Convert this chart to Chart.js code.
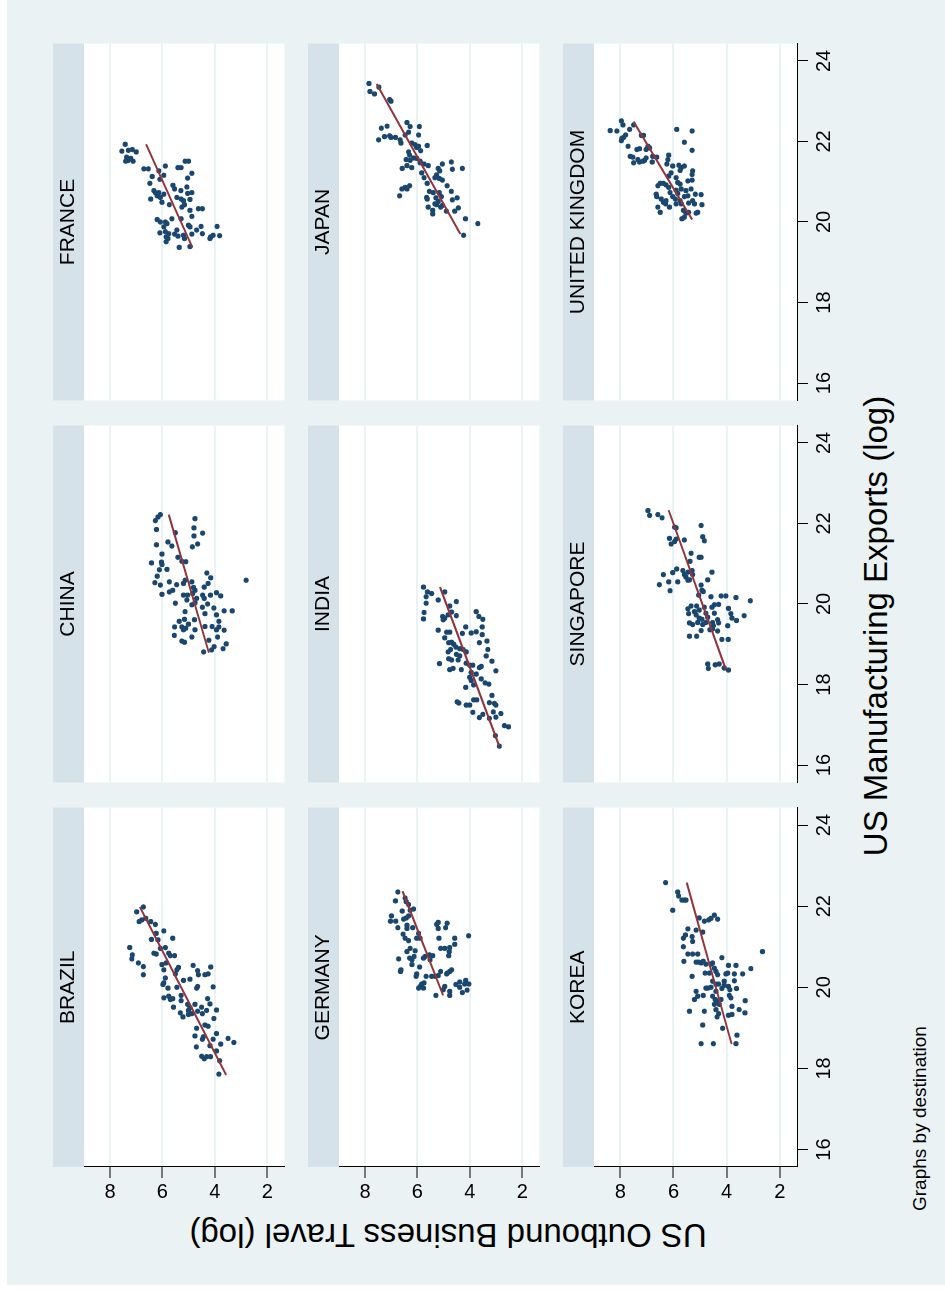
<!DOCTYPE html>
<html>
<head>
<meta charset="utf-8">
<script src="https://cdn.jsdelivr.net/npm/chart.js@4.4.1/dist/chart.umd.min.js"></script>
<style>
html,body{margin:0;padding:0;background:#fff;width:945px;height:1291px;overflow:hidden}
#rot{position:absolute;left:0;top:0;width:1291px;height:945px;transform-origin:0 0;transform:translateY(1291px) rotate(-90deg);background:#fff}
#bg{position:absolute;left:6px;top:7px;width:1285px;height:938px;background:#eaf2f3}
.panel{position:absolute}
.txt{position:absolute;font-family:"Liberation Sans",Arial,Helvetica,sans-serif;color:#000;white-space:nowrap}
</style>
</head>
<body>
<div id="rot">
  <div id="bg"></div>
  <div class="txt" id="xtitle" style="left:365px;top:858px;width:600px;height:36px;line-height:36px;font-size:33px;text-align:center">US Manufacturing Exports (log)</div>
  <div class="txt" id="ytitle" style="left:-244px;top:430px;width:600px;height:36px;line-height:36px;font-size:33px;text-align:center;transform:rotate(-90deg)">US Outbound Business Travel (log)</div>
  <div class="txt" id="note" style="left:80px;top:909px;height:22px;line-height:22px;font-size:19px">Graphs by destination</div>
</div>
<script>
// ---------- data (x = US manufacturing exports, log; y = US outbound business travel, log) ----------
const countries = ['BRAZIL','CHINA','FRANCE','GERMANY','INDIA','JAPAN','KOREA','SINGAPORE','UNITED KINGDOM'];
const exportTicks = [16, 18, 20, 22, 24];
const travelTicks = [2, 4, 6, 8];

const brazil = [[21.98,6.73],[21.86,6.98],[21.62,6.89],[21.66,6.79],[21.70,6.64],[21.62,6.45],[21.55,6.27],[21.33,6.24],[21.39,5.95],[21.18,6.42],[21.17,6.17],[21.21,5.61],[20.98,7.25],[20.80,7.15],[20.70,7.17],[20.60,6.92],[20.51,6.73],[20.31,6.73],[20.84,6.33],[20.82,6.24],[20.96,6.08],[20.98,5.89],[20.84,5.76],[20.78,5.70],[20.78,5.54],[20.56,6.02],[20.43,5.95],[20.60,5.86],[20.43,5.45],[20.49,5.39],[20.33,5.51],[20.17,5.20],[20.23,5.89],[20.11,5.95],[20.07,5.98],[19.98,5.79],[19.74,5.95],[19.78,5.76],[19.70,5.70],[19.72,5.61],[19.51,5.58],[19.80,5.29],[19.67,5.29],[20.00,5.45],[19.37,5.32],[19.27,5.22],[19.58,5.04],[19.49,4.95],[19.43,5.01],[19.35,4.88],[19.58,4.76],[19.41,4.66],[19.51,4.51],[19.35,4.48],[20.54,4.83],[20.41,4.66],[20.31,4.63],[20.31,4.38],[20.33,4.26],[20.50,4.16],[20.20,4.95],[19.98,4.70],[20.02,4.66],[20.01,4.07],[19.72,4.28],[19.59,4.19],[19.43,4.32],[19.44,3.94],[19.23,4.04],[19.07,4.38],[19.04,4.26],[18.99,4.70],[18.80,4.76],[18.72,4.48],[18.78,4.44],[18.72,4.07],[18.86,3.94],[18.60,3.78],[18.74,3.50],[18.64,3.28],[18.56,4.19],[18.43,3.94],[18.53,4.71],[18.30,4.51],[18.24,4.41],[18.29,4.32],[18.29,4.17],[18.19,3.82],[17.86,3.85],[19.33,5.01]];
const brazilFit = [[17.84,3.57],[21.98,6.86]];

const china = [[22.22,6.08],[22.16,6.17],[22.07,6.27],[22.12,4.76],[21.89,4.80],[21.85,6.23],[21.77,5.51],[21.69,4.80],[21.76,4.47],[21.47,6.23],[21.54,5.79],[21.44,5.64],[21.42,4.86],[21.49,4.66],[21.24,6.02],[21.16,5.41],[21.06,5.26],[21.05,5.11],[21.02,6.42],[21.04,6.04],[20.98,6.02],[20.85,6.12],[20.86,5.83],[20.69,6.20],[20.53,6.29],[20.47,6.08],[20.24,6.02],[20.55,5.74],[20.30,5.74],[20.34,5.61],[20.48,5.46],[20.51,5.20],[20.59,5.14],[20.55,4.88],[20.41,4.82],[20.34,4.76],[20.77,4.31],[20.65,4.16],[20.51,4.26],[20.42,4.41],[20.59,2.81],[20.22,5.20],[20.22,5.04],[20.10,5.07],[19.81,5.14],[20.26,4.85],[20.14,4.70],[20.03,4.76],[19.98,4.88],[20.22,4.47],[20.14,4.41],[20.22,4.17],[20.28,3.94],[20.20,3.78],[20.00,4.28],[19.92,4.48],[19.90,4.04],[19.83,3.65],[19.83,3.34],[19.76,4.38],[19.73,3.94],[19.57,3.85],[20.02,5.51],[19.57,5.36],[19.62,5.16],[19.61,4.78],[19.50,5.01],[19.43,5.26],[19.36,5.20],[19.40,5.11],[19.43,5.54],[19.36,4.76],[19.44,4.38],[19.44,4.11],[19.36,3.94],[19.43,3.85],[19.35,3.65],[19.22,5.55],[19.18,4.88],[19.18,3.90],[19.10,4.23],[19.08,5.26],[19.05,5.16],[18.94,4.03],[18.86,4.13],[18.81,4.43],[18.89,3.69],[19.01,3.57]];
const chinaFit = [[18.79,4.23],[22.22,5.76]];

const france = [[21.93,7.42],[21.76,7.55],[21.78,7.30],[21.80,7.15],[21.74,7.00],[21.61,7.37],[21.53,7.30],[21.51,7.40],[21.58,7.21],[21.51,7.12],[21.32,6.71],[21.32,6.54],[21.39,5.89],[21.13,6.39],[21.27,6.14],[21.16,5.95],[21.06,6.10],[20.96,6.48],[21.35,5.41],[21.35,5.29],[21.51,5.14],[21.51,5.01],[21.21,4.88],[21.09,5.04],[20.91,5.60],[20.78,6.33],[20.73,6.27],[20.65,6.20],[20.73,6.14],[20.69,5.95],[20.61,6.08],[20.57,6.45],[20.49,6.02],[20.43,5.74],[20.61,5.45],[20.78,5.30],[20.57,5.29],[20.53,5.20],[20.43,5.16],[20.87,5.07],[20.71,5.04],[20.73,4.88],[20.56,4.95],[20.29,4.95],[20.14,4.88],[20.33,4.63],[20.33,4.48],[20.06,6.20],[20.00,6.08],[20.00,5.89],[19.96,5.83],[19.88,5.95],[20.08,5.64],[20.08,5.29],[19.92,5.01],[19.88,4.95],[19.80,4.70],[19.89,4.53],[19.71,4.48],[19.73,6.10],[19.76,5.89],[19.71,5.76],[19.63,5.86],[19.59,5.79],[19.51,5.86],[19.70,5.54],[19.80,5.45],[19.65,5.41],[19.67,5.20],[19.59,5.16],[19.70,4.88],[19.37,5.36],[19.39,4.95],[19.63,4.16],[19.67,4.07],[19.89,3.92],[19.66,3.82],[19.59,4.19],[20.82,5.54],[20.37,5.26]];
const franceFit = [[19.37,4.86],[21.93,6.62]];

const germany = [[22.35,6.75],[22.13,6.84],[22.20,6.47],[22.11,6.43],[22.04,6.34],[21.90,6.28],[21.93,6.15],[21.88,6.58],[21.76,6.99],[21.63,7.03],[21.63,6.83],[21.47,6.75],[21.68,6.53],[21.71,6.43],[21.76,6.34],[21.53,6.40],[21.45,6.40],[21.47,6.18],[21.31,6.55],[21.21,6.47],[21.15,6.34],[21.33,5.96],[21.21,5.90],[21.21,6.03],[20.96,6.28],[20.88,6.40],[20.90,6.09],[20.72,6.30],[20.68,6.21],[20.76,6.13],[20.56,6.21],[20.70,6.72],[20.39,6.65],[20.43,6.63],[20.50,5.92],[20.72,5.77],[20.76,5.71],[20.80,5.55],[20.78,5.42],[20.68,5.52],[20.33,6.03],[20.27,6.05],[19.98,5.96],[20.02,5.90],[20.08,5.84],[20.11,5.75],[20.27,5.67],[20.27,5.46],[20.27,5.33],[20.29,5.21],[20.39,5.12],[21.55,5.27],[21.60,5.21],[21.45,5.21],[21.58,4.87],[21.47,4.93],[21.21,5.18],[21.21,4.58],[21.06,4.58],[20.96,5.12],[20.96,4.96],[20.98,4.77],[20.88,4.79],[20.78,4.81],[20.35,4.86],[20.39,4.77],[20.43,4.70],[20.33,4.89],[21.27,4.05],[20.02,4.96],[19.94,5.02],[19.90,4.77],[19.80,4.77],[19.80,5.30],[20.07,4.54],[20.13,4.39],[20.00,4.39],[19.87,4.29],[20.17,4.16],[19.93,4.11],[20.08,4.04],[20.08,4.20],[19.98,5.77]];
const germanyFit = [[19.80,5.02],[22.37,6.57]];

const india = [[20.42,5.77],[20.30,5.62],[20.26,5.46],[20.18,5.67],[20.02,5.67],[20.10,5.21],[20.30,4.96],[20.06,4.52],[19.79,5.75],[19.63,5.77],[19.69,5.04],[19.65,4.96],[19.61,5.02],[19.73,4.83],[19.95,4.77],[19.80,4.70],[19.71,4.52],[19.81,3.76],[19.69,3.66],[19.62,3.51],[19.35,5.21],[19.30,4.89],[19.30,4.77],[19.43,4.16],[19.27,4.29],[19.28,3.95],[19.31,3.76],[19.43,3.53],[19.24,3.53],[19.16,4.96],[19.04,4.81],[19.05,4.70],[19.00,4.62],[18.93,4.54],[18.89,4.39],[18.87,4.74],[18.81,4.14],[19.04,3.64],[19.08,3.35],[18.87,3.32],[18.81,4.83],[18.64,4.81],[18.61,4.70],[18.75,4.52],[18.71,4.39],[18.61,4.45],[18.52,5.16],[18.37,4.77],[18.40,4.64],[18.37,4.33],[18.53,4.14],[18.48,4.01],[18.48,3.89],[18.42,3.64],[18.45,3.57],[18.30,3.95],[18.26,3.76],[18.18,4.01],[18.10,3.95],[17.99,3.86],[17.93,4.16],[18.14,3.57],[18.04,3.42],[18.01,3.28],[18.58,3.16],[18.34,3.01],[17.57,4.49],[17.54,4.42],[17.49,4.14],[17.49,4.01],[17.62,3.86],[17.62,3.74],[17.73,3.16],[17.55,3.26],[17.53,3.07],[17.49,3.01],[17.31,3.89],[17.18,3.64],[17.26,3.51],[17.16,3.26],[17.32,3.11],[17.19,3.01],[17.28,2.82],[16.98,2.69],[16.95,2.53],[16.73,3.03],[16.47,2.88],[18.71,3.38],[18.87,4.26]];
const indiaFit = [[16.47,2.88],[20.42,5.14]];

const japan = [[23.44,7.85],[23.24,7.81],[23.18,7.64],[23.35,7.47],[23.04,7.06],[23.00,7.01],[22.33,7.38],[22.38,7.16],[22.04,7.48],[22.12,7.26],[22.14,7.06],[22.10,7.01],[22.10,6.84],[22.04,6.66],[21.96,6.63],[22.47,6.40],[22.37,6.28],[22.23,6.34],[22.16,6.47],[22.37,5.93],[22.16,5.96],[21.96,6.22],[21.92,6.09],[21.88,5.96],[21.77,5.88],[21.85,6.03],[21.90,5.63],[21.74,6.34],[21.66,6.30],[21.59,6.15],[21.55,6.43],[21.53,6.28],[21.58,6.03],[21.51,5.90],[21.44,5.75],[21.40,5.59],[21.40,6.40],[21.35,6.22],[21.33,6.58],[21.22,5.84],[21.10,5.75],[20.96,5.63],[21.33,5.21],[21.27,5.15],[21.44,5.05],[21.17,5.27],[21.10,5.34],[21.08,5.17],[21.04,5.05],[21.49,4.71],[21.31,4.67],[21.33,4.29],[20.86,6.47],[20.82,6.40],[20.90,6.30],[20.82,6.59],[20.65,6.68],[20.76,5.55],[20.61,5.65],[20.57,5.63],[20.73,5.40],[20.73,5.17],[20.60,5.30],[20.51,5.21],[20.63,5.09],[20.90,4.87],[20.76,4.71],[20.55,4.67],[20.60,4.49],[20.37,5.59],[20.29,5.42],[20.20,5.42],[20.43,5.27],[20.37,5.12],[20.41,5.05],[20.27,4.90],[20.27,4.58],[20.35,4.44],[20.08,4.17],[19.96,3.70],[19.67,4.24],[20.45,5.34],[21.47,5.90]];
const japanFit = [[19.70,4.36],[23.43,7.56]];

const korea = [[22.58,6.30],[22.35,5.84],[22.25,5.81],[22.15,5.68],[22.15,5.59],[22.15,5.53],[21.90,6.03],[21.71,5.03],[21.63,4.84],[21.66,4.68],[21.70,4.59],[21.78,4.46],[21.68,4.34],[21.41,5.15],[21.44,5.46],[21.21,5.63],[21.29,5.55],[21.25,5.30],[21.13,5.28],[21.36,4.90],[21.00,5.63],[20.82,5.46],[20.82,5.28],[20.82,5.09],[20.64,5.61],[20.62,5.15],[20.62,5.05],[20.60,4.96],[20.64,4.88],[20.57,4.78],[20.57,4.59],[20.60,4.53],[20.35,4.81],[20.35,4.65],[20.47,4.46],[20.39,4.40],[20.31,4.34],[20.73,4.18],[20.27,5.30],[19.98,4.78],[19.98,4.71],[20.00,4.59],[20.15,4.53],[20.08,4.40],[20.08,4.30],[19.97,4.18],[20.05,4.09],[20.54,3.93],[20.54,3.65],[20.35,3.96],[20.33,4.03],[20.33,3.71],[20.33,3.40],[20.46,3.09],[20.88,2.65],[20.15,4.09],[20.02,3.93],[19.94,3.88],[19.80,3.90],[19.74,3.84],[20.16,3.71],[19.97,3.63],[19.67,3.30],[19.45,3.53],[19.37,3.31],[19.90,5.15],[19.78,5.09],[19.70,5.21],[19.80,4.88],[19.78,4.53],[19.70,4.43],[19.66,4.34],[19.70,4.21],[19.58,4.46],[19.45,4.40],[19.35,4.30],[19.27,4.36],[19.31,3.93],[19.33,3.80],[19.53,3.80],[19.41,5.40],[19.41,4.84],[19.07,4.90],[18.99,4.15],[18.82,3.61],[18.61,4.96],[18.61,4.50],[18.61,3.65],[19.90,4.40],[19.58,4.28]];
const koreaFit = [[18.60,3.81],[22.58,5.50]];

const singapore = [[22.32,6.96],[22.20,6.90],[22.22,6.59],[22.14,6.43],[21.91,5.96],[21.89,5.90],[21.95,4.96],[21.63,6.15],[21.49,6.09],[21.55,5.96],[21.61,5.90],[21.59,5.59],[21.67,4.90],[21.57,4.84],[21.26,5.34],[21.06,5.38],[21.16,5.03],[21.16,4.96],[20.87,5.88],[20.78,6.03],[20.73,6.38],[20.48,6.53],[20.55,6.18],[20.55,5.84],[20.33,6.13],[20.83,5.65],[20.73,5.59],[20.67,5.53],[20.79,5.46],[20.83,5.30],[20.73,5.28],[20.59,5.46],[20.60,5.40],[20.79,4.55],[20.60,4.71],[20.47,4.96],[20.34,4.93],[20.31,4.88],[20.22,5.05],[20.18,4.59],[20.20,4.21],[20.20,4.03],[20.16,3.65],[20.08,3.11],[19.88,5.46],[19.95,5.34],[19.95,5.13],[19.92,4.84],[19.92,4.55],[19.98,4.46],[19.99,4.30],[19.89,3.93],[19.81,5.21],[19.73,5.15],[19.65,5.03],[19.62,4.93],[19.77,4.78],[19.67,4.71],[19.77,4.46],[19.76,3.84],[19.65,3.80],[19.59,3.63],[19.71,3.34],[19.76,5.43],[19.53,5.40],[19.49,5.28],[19.54,5.09],[19.49,4.90],[19.54,4.78],[19.54,4.53],[19.61,4.34],[19.53,4.30],[19.46,3.96],[19.36,4.63],[19.38,4.53],[19.33,4.34],[19.34,4.96],[19.20,5.40],[19.20,5.13],[19.12,4.18],[19.12,3.94],[18.51,4.71],[18.40,4.69],[18.49,4.43],[18.51,4.28],[18.41,4.09],[18.36,3.93],[19.46,4.50],[19.85,5.03]];
const singaporeFit = [[18.38,4.03],[22.33,6.18]];

const unitedKingdom = [[22.27,8.38],[22.26,8.13],[22.51,7.96],[22.41,7.90],[22.30,7.65],[22.41,7.50],[22.08,7.94],[22.10,7.88],[22.16,7.80],[22.02,7.96],[22.15,7.21],[22.15,7.13],[22.30,5.88],[22.26,5.30],[21.98,5.59],[21.88,7.71],[21.80,7.38],[21.82,7.28],[21.80,7.03],[21.88,6.96],[21.84,6.90],[21.63,7.63],[21.61,7.53],[21.47,7.50],[21.55,7.34],[21.49,7.28],[21.51,7.15],[21.53,7.09],[21.59,7.03],[21.49,6.80],[21.63,6.78],[21.61,6.63],[21.78,5.30],[21.66,6.18],[21.55,6.21],[21.44,6.25],[21.39,6.03],[21.41,5.80],[21.35,5.71],[21.39,5.59],[21.28,5.75],[21.22,6.09],[21.14,6.18],[21.10,5.90],[20.98,5.84],[20.94,5.75],[21.27,5.28],[21.18,5.30],[21.02,5.46],[21.04,5.30],[20.90,6.59],[20.96,6.50],[20.96,6.38],[20.92,6.28],[20.86,6.18],[20.73,6.13],[20.79,5.90],[20.71,5.84],[20.82,5.71],[20.78,5.53],[20.82,5.34],[20.69,6.65],[20.63,6.63],[20.57,6.46],[20.49,6.38],[20.45,6.30],[20.53,6.28],[20.37,6.15],[20.37,6.59],[20.24,6.50],[20.57,5.93],[20.45,5.90],[20.53,5.75],[20.45,5.71],[20.63,5.59],[20.65,5.46],[20.47,5.43],[20.53,5.28],[20.69,5.18],[20.68,4.96],[20.43,4.93],[20.29,5.63],[20.22,5.53],[20.24,5.43],[20.08,5.68],[20.12,5.59],[20.22,5.15],[20.24,5.09],[20.45,5.21],[20.63,6.03]];
const unitedKingdomFit = [[20.06,5.30],[22.49,7.50]];

const seriesList = [brazil, china, france, germany, india, japan, korea, singapore, unitedKingdom];
const fitList = [brazilFit, chinaFit, franceFit, germanyFit, indiaFit, japanFit, koreaFit, singaporeFit, unitedKingdomFit];

// ---------- styling / layout (unrotated frame; whole figure is turned 90deg CCW) ----------
const FONT = '"Liberation Sans", Arial, Helvetica, sans-serif';
const NAVY = 'rgb(26,71,111)';
const MAROON = 'rgb(144,53,59)';
const STRIP = '#d6e2e9';
const GRID = '#eaf2f3';
const colLeft = [124, 506, 888];
const rowTop = [84, 339, 594];
const plotW = 362, plotH = 203, stripH = 31, yAxisW = 50, xAxisH = 45;
const xRange = [15.57, 24.43];
const yRange = [1.35, 8.99];

const panelBg = {
  id: 'panelBg',
  beforeDraw(chart) {
    const {ctx, chartArea: a} = chart;
    ctx.save();
    ctx.fillStyle = '#ffffff';
    ctx.fillRect(a.left, a.top, a.right - a.left, a.bottom - a.top);
    ctx.fillStyle = STRIP;
    ctx.fillRect(a.left, 0, a.right - a.left, a.top);
    ctx.restore();
  }
};

const rot = document.getElementById('rot');
Chart.defaults.font.family = FONT;

countries.forEach((name, i) => {
  const r = Math.floor(i / 3), c = i % 3;
  const hasY = c === 0, hasX = r === 2;
  const w = plotW + (hasY ? yAxisW : 0);
  const h = stripH + plotH + (hasX ? xAxisH : 0);
  const div = document.createElement('div');
  div.className = 'panel';
  div.style.left = (colLeft[c] - (hasY ? yAxisW : 0)) + 'px';
  div.style.top = (rowTop[r] - stripH) + 'px';
  div.style.width = w + 'px';
  div.style.height = h + 'px';
  const cv = document.createElement('canvas');
  cv.width = w; cv.height = h;
  cv.style.width = w + 'px'; cv.style.height = h + 'px';
  div.appendChild(cv);
  rot.appendChild(div);

  new Chart(cv, {
    type: 'scatter',
    data: {
      datasets: [
        {
          data: fitList[i].map(([x, y]) => ({x, y})),
          showLine: true, borderColor: MAROON, borderWidth: 2,
          pointRadius: 0, pointHoverRadius: 0, backgroundColor: MAROON
        },
        {
          data: seriesList[i].map(([x, y]) => ({x, y})),
          backgroundColor: NAVY, borderWidth: 0,
          pointRadius: 2.6, pointHoverRadius: 2.6
        }
      ]
    },
    options: {
      responsive: false, animation: false, devicePixelRatio: 1,
      events: [],
      layout: {padding: 0},
      plugins: {
        legend: {display: false},
        tooltip: {enabled: false},
        title: {
          display: true, text: name, fullSize: false, position: 'top', align: 'center',
          color: '#000', font: {family: FONT, size: 21, weight: 'normal', lineHeight: 25 / 21},
          padding: {top: 3, bottom: 3}
        }
      },
      scales: {
        x: {
          type: 'linear', position: 'bottom', min: xRange[0], max: xRange[1],
          display: hasX,
          afterBuildTicks: s => { s.ticks = exportTicks.map(v => ({value: v})); },
          ticks: {color: '#000', font: {family: FONT, size: 20}, padding: 4, autoSkip: false, maxRotation: 0, minRotation: 0},
          grid: {drawOnChartArea: false, drawTicks: true, tickLength: 11, tickColor: '#000', tickWidth: 1},
          border: {display: true, color: '#000', width: 1},
          afterFit: s => { s.height = hasX ? xAxisH : 0; s.paddingLeft = 0; s.paddingRight = 0; }
        },
        y: {
          type: 'linear', position: 'left', min: yRange[0], max: yRange[1],
          display: true,
          afterBuildTicks: s => { s.ticks = travelTicks.map(v => ({value: v})); },
          ticks: {display: hasY, color: '#000', font: {family: FONT, size: 20}, padding: 9, autoSkip: false,
                  minRotation: -90, maxRotation: -90, crossAlign: 'center'},
          grid: {drawOnChartArea: true, color: GRID, lineWidth: 2, drawTicks: hasY, tickLength: 11, tickColor: '#000', tickWidth: 1},
          border: {display: hasY, color: '#000', width: 1},
          afterFit: s => { s.width = hasY ? yAxisW : 0; s.paddingTop = 0; s.paddingBottom = 0; }
        }
      }
    },
    plugins: [panelBg]
  });
});
</script>
</body>
</html>
